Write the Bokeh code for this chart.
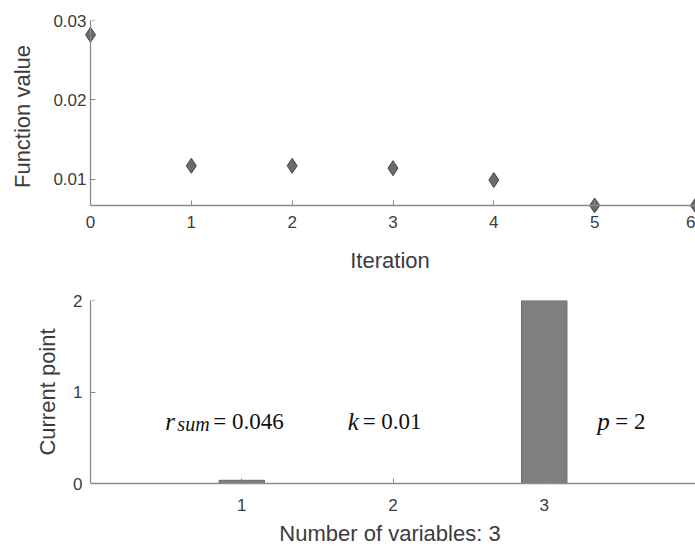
from bokeh.plotting import figure
from bokeh.layouts import column
from bokeh.models import FixedTicker, BasicTickFormatter, Label, ColumnDataSource, LinearAxis
from bokeh.embed import file_html
from bokeh.resources import INLINE

# ---- data ----
iterations = [0, 1, 2, 3, 4, 5, 6]
function_values = [0.0282, 0.0117, 0.0117, 0.0114, 0.0099, 0.0067, 0.0067]
variables = [1, 2, 3]
current_point = [0.035, 0.0, 2.0]
top_yticks = [0.01, 0.02, 0.03]
top_xticks = [0, 1, 2, 3, 4, 5, 6]
bottom_xticks = [1, 2, 3]
bottom_yticks = [0, 1, 2]
bottom_xlim = (0, 4)
bottom_ylim = (0, 2)

AX = "#8a8a8a"
TXT = "#3c3c3c"
SANS = "Liberation Sans"
SERIF = "Liberation Serif"


def style_axis(ax):
    ax.axis_line_color = AX
    ax.axis_line_width = 1.3
    ax.major_tick_line_color = AX
    ax.major_tick_in = 5
    ax.major_tick_out = 0
    ax.minor_tick_line_color = None
    ax.major_label_text_font = SANS
    ax.major_label_text_font_size = "17px"
    ax.major_label_text_color = TXT
    ax.axis_label_text_font = SANS
    ax.axis_label_text_font_size = "22px"
    ax.axis_label_text_font_style = "normal"
    ax.axis_label_text_color = TXT


def style(p):
    p.outline_line_color = None
    p.xgrid.visible = False
    p.ygrid.visible = False
    p.background_fill_color = "white"
    p.border_fill_color = "white"
    for ax in (p.xaxis[0], p.yaxis[0]):
        style_axis(ax)


def line_axis(loc, bounds, ticks):
    ax = LinearAxis(fixed_location=loc, bounds=bounds, ticker=FixedTicker(ticks=ticks))
    style_axis(ax)
    ax.major_label_text_color = None
    ax.major_label_text_font_size = "1px"
    ax.major_label_standoff = 0
    ax.axis_label_standoff = 0
    return ax


# ---- top panel ----
x_lo, x_hi = min(iterations), max(iterations)
y_lo, y_hi = min(function_values), max(top_yticks)
px_per_x = 605 / (x_hi - x_lo)
px_per_y = 185 / (y_hi - y_lo)
pad_x = 6 / px_per_x
pad_y = 7 / px_per_y

p1 = figure(frame_width=611, frame_height=192,
            x_range=(x_lo - pad_x, x_hi), y_range=(y_lo - pad_y, y_hi),
            output_backend="svg", toolbar_location=None,
            min_border_left=84, min_border_right=0, min_border_top=20, min_border_bottom=68)
style(p1)
xlab, ylab = p1.xaxis[0], p1.yaxis[0]
xlab.ticker = FixedTicker(ticks=top_xticks)
ylab.ticker = FixedTicker(ticks=top_yticks)
ylab.formatter = BasicTickFormatter(precision=2)
for ax in (xlab, ylab):
    ax.axis_line_color = None
    ax.major_tick_line_color = None
xlab.axis_label = "Iteration"
ylab.axis_label = "Function value"
xlab.major_label_standoff = 3
xlab.axis_label_standoff = 17
ylab.major_label_standoff = -2
ylab.axis_label_standoff = 15
p1.below = [xlab, line_axis(y_lo, (x_lo, x_hi), top_xticks)]
p1.left = [line_axis(x_lo, (y_lo, y_hi), top_yticks), ylab]

src1 = ColumnDataSource(dict(x=iterations, y=function_values))
p1.scatter("x", "y", source=src1, marker="diamond", size=15,
           fill_color="#6b6b6b", line_color="#454545", line_width=1)

# ---- bottom panel ----
bx_pad = 6 / (605 / (bottom_xlim[1] - bottom_xlim[0]))
p2 = figure(frame_width=611, frame_height=183,
            x_range=(bottom_xlim[0] - bx_pad, bottom_xlim[1]), y_range=bottom_ylim,
            output_backend="svg", toolbar_location=None,
            min_border_left=84, min_border_right=0, min_border_top=20, min_border_bottom=65)
style(p2)
bxlab, bylab = p2.xaxis[0], p2.yaxis[0]
bxlab.ticker = FixedTicker(ticks=bottom_xticks)
bxlab.bounds = bottom_xlim
bylab.ticker = FixedTicker(ticks=bottom_yticks)
bylab.axis_line_color = None
bylab.major_tick_line_color = None
bxlab.axis_label = "Number of variables: 3"
bylab.axis_label = "Current point"
bxlab.major_label_standoff = 15
bxlab.axis_label_standoff = 7
bylab.major_label_standoff = 2
bylab.axis_label_standoff = 10
p2.left = [line_axis(bottom_xlim[0], bottom_ylim, bottom_yticks), bylab]

src2 = ColumnDataSource(dict(x=variables, top=current_point))
p2.vbar(x="x", top="top", width=0.3, bottom=0, source=src2,
        fill_color="#7f7f7f", line_color="#6a6a6a", line_width=1)

# annotations
def lab(text, x, y, xoff=0, yoff=0, size="23px", style_="normal"):
    p2.add_layout(Label(x=x, y=y, x_offset=xoff, y_offset=yoff, text=text,
                        text_font=SERIF, text_font_size=size, text_font_style=style_,
                        text_color="#111111", text_baseline="alphabetic"))

ann_y = 0.675
lab("r", 0.495, ann_y, 0, 0, "25px", "italic")
lab("sum", 0.495, ann_y, 12, -2, "20px", "italic")
lab("= 0.046", 0.495, ann_y, 48, 0, "23px")
lab("k", 1.70, ann_y, 0, 0, "25px", "italic")
lab("= 0.01", 1.70, ann_y, 15, 0, "23px")
lab("p", 3.35, ann_y, 0, 0, "25px", "italic")
lab("= 2", 3.35, ann_y, 18, 0, "23px")

layout = column(p1, p2, spacing=0)
open("out.html", "w").write(file_html(layout, INLINE))
